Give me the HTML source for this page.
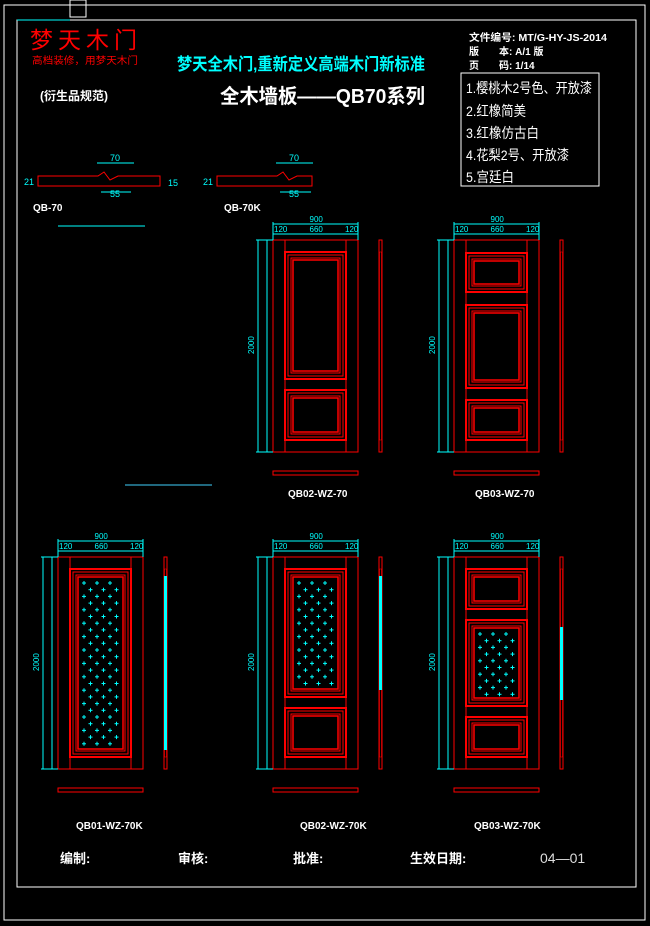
<!DOCTYPE html>
<html><head><meta charset="utf-8">
<style>
html,body{margin:0;padding:0;background:#000;}
svg{display:block;}
text{font-family:"Liberation Sans","Noto Sans CJK SC",sans-serif;}
</style></head><body>
<svg id="s" width="650" height="926" viewBox="0 0 650 926" xmlns="http://www.w3.org/2000/svg">
<rect width="650" height="926" fill="#000"/>
<rect x="4" y="5" width="641" height="915" fill="none" stroke="#fff" stroke-width="1"/>
<rect x="17" y="20" width="619" height="867" fill="none" stroke="#fff" stroke-width="1"/>
<line x1="17" y1="20" x2="70" y2="20" stroke="#0ff"/>
<rect x="70" y="0" width="16" height="17" fill="none" stroke="#fff"/>

<text x="30" y="48" fill="#f00" font-size="23" letter-spacing="5">梦天木门</text>
<text x="32" y="64" fill="#f00" font-size="10" textLength="106" lengthAdjust="spacingAndGlyphs">高档装修，用梦天木门</text>
<text x="177" y="70" fill="#0ff" font-size="17" font-weight="bold" textLength="248" lengthAdjust="spacingAndGlyphs">梦天全木门,重新定义高端木门新标准</text>
<text x="40" y="100" fill="#fff" font-size="12" font-weight="bold">(衍生品规范)</text>
<text x="220" y="103" fill="#fff" font-size="20" font-weight="bold" textLength="205" lengthAdjust="spacingAndGlyphs">全木墙板——QB70系列</text>
<g fill="#fff" font-size="10" font-weight="bold">
<text x="469" y="41" textLength="138" lengthAdjust="spacingAndGlyphs">文件编号: MT/G-HY-JS-2014</text>
<text x="469" y="55">版　　本:  A/1 版</text>
<text x="469" y="69">页　　码:  1/14</text>
</g>
<rect x="461" y="73" width="138" height="113" fill="none" stroke="#fff"/>
<g fill="#fff" font-size="14">
<text x="466" y="93" textLength="126" lengthAdjust="spacingAndGlyphs">1.樱桃木2号色、开放漆</text>
<text x="466" y="116" textLength="60" lengthAdjust="spacingAndGlyphs">2.红橡简美</text>
<text x="466" y="138" textLength="73" lengthAdjust="spacingAndGlyphs">3.红橡仿古白</text>
<text x="466" y="160" textLength="103" lengthAdjust="spacingAndGlyphs">4.花梨2号、开放漆</text>
<text x="466" y="182" textLength="48" lengthAdjust="spacingAndGlyphs">5.宫廷白</text>
</g>

<!-- profiles -->
<g fill="none" stroke="#f00" stroke-width="1">
<path d="M38 176 H98 L104 172 L110 180 L118 176 L128 176 V176 H160 V186 H38 Z"/>
<path d="M217 176 H277 L283 172 L289 180 L297 176 L312 176 V186 H217 Z"/>
</g>
<g stroke="#0ff" fill="none">
<line x1="97" y1="163" x2="134" y2="163"/><line x1="101" y1="192" x2="131" y2="192"/>
<line x1="276" y1="163" x2="313" y2="163"/><line x1="280" y1="192" x2="311" y2="192"/>
<line x1="58" y1="226" x2="145" y2="226"/>
<line x1="125" y1="485" x2="212" y2="485" stroke-width="1.5" stroke="#2a8aa8"/>
</g>
<g fill="#0ff" font-size="9">
<text x="110" y="161">70</text><text x="110" y="197">55</text>
<text x="289" y="161">70</text><text x="289" y="197">55</text>
<text x="24" y="185">21</text><text x="203" y="185">21</text><text x="168" y="186">15</text>
</g>
<g fill="#fff" font-size="10" font-weight="bold">
<text x="33" y="211">QB-70</text><text x="224" y="211">QB-70K</text>
</g>

<g id="doors"></g>

<g fill="#fff" font-size="10" font-weight="bold">
<text x="288" y="497">QB02-WZ-70</text>
<text x="475" y="497">QB03-WZ-70</text>
<text x="76" y="829">QB01-WZ-70K</text>
<text x="300" y="829">QB02-WZ-70K</text>
<text x="474" y="829">QB03-WZ-70K</text>
</g>
<g fill="#fff" font-size="13" font-weight="bold">
<text x="60" y="863">编制:</text>
<text x="178" y="863">审核:</text>
<text x="293" y="863">批准:</text>
<text x="410" y="863">生效日期:</text>
</g>
<text x="540" y="863" fill="#ddd" font-size="14">04—01</text>
</svg>
<script>
var g=document.getElementById('doors'),h='';
function R(x,y,w,hh,c,sw){h+='<rect x="'+x+'" y="'+y+'" width="'+w+'" height="'+hh+'" fill="none" stroke="'+(c||'#f00')+'" stroke-width="'+(sw||1)+'"/>';}
function L(a,b,c,d,col){h+='<line x1="'+a+'" y1="'+b+'" x2="'+c+'" y2="'+d+'" stroke="'+(col||'#f00')+'"/>';}
function T(x,y,t,rot){h+='<text x="'+x+'" y="'+y+'" fill="#0ff" font-size="8"'+(rot?' transform="rotate(-90 '+x+' '+y+')"':'')+'>'+t+'</text>';}
function door(x,y,panels){
 var w=85,H=212;
 R(x,y,w,H);L(x+12,y,x+12,y+H);L(x+w-12,y,x+w-12,y+H);
 panels.forEach(function(p){
  var px=x+12,pw=w-24,py=p[0],ph=p[1]-p[0];
  R(px,py,pw,ph,'#f00',2);R(px+3,py+3,pw-6,ph-6);R(px+6,py+6,pw-12,ph-12);R(px+8,py+8,pw-16,ph-16,'#f00',1.5);
  if(p[2]){for(var yy=py+14,r=0;yy<py+ph-10;yy+=6.7,r++){for(var xx=px+14+(r%2?6.5:0);xx<px+pw-11;xx+=13){L(xx-2,yy,xx+2,yy,'#0ff');L(xx,yy-2,xx,yy+2,'#0ff');}}}
 });
 L(x,y-16,x+w,y-16,'#0ff');L(x,y-6,x+w,y-6,'#0ff');L(x,y-18,x,y,'#0ff');L(x+w,y-18,x+w,y,'#0ff');
 T(x+w/2-6,y-18,'900');T(x+1,y-8,'120');T(x+w/2-6,y-8,'660');T(x+w-13,y-8,'120');
 L(x-15,y,x-15,y+H,'#0ff');L(x-6,y,x-6,y+H,'#0ff');L(x-17,y,x,y,'#0ff');L(x-17,y+H,x,y+H,'#0ff');
 T(x-19,y+H/2+8,'2000',true);
 R(x+106,y,3,H);R(x+106.5,y+12,2,H-24,'#f00',0.5);
 R(x,y+231,w,4);
}
function side(x,y,y0,y1){h+='<rect x="'+(x+106)+'" y="'+y0+'" width="3" height="'+(y1-y0)+'" fill="#0ff"/>';}
door(273,240,[[252,379],[390,440]]);
door(454,240,[[253,292],[305,388],[400,440]]);
door(58,557,[[569,757,1]]);side(58,557,576,750);
door(273,557,[[569,697,1],[708,757]]);side(273,557,576,690);
door(454,557,[[569,609],[620,706,1],[717,757]]);side(454,557,627,700);
g.innerHTML=h;
</script>
</body></html>
